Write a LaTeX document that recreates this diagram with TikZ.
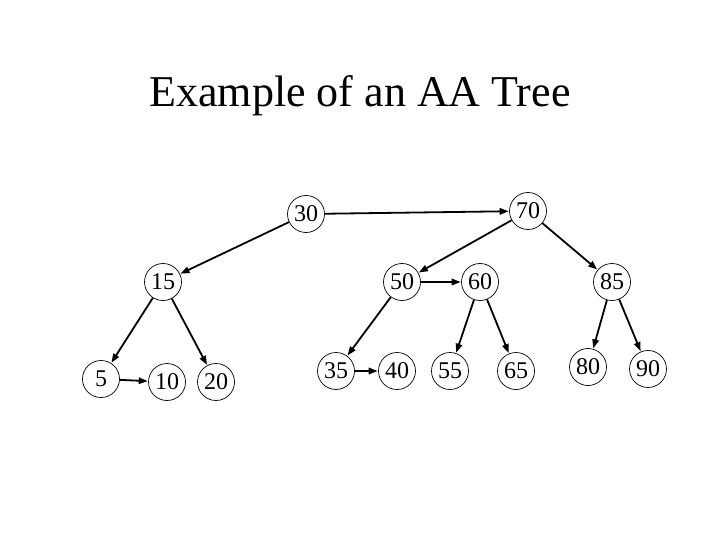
\documentclass[tikz,border=0pt]{standalone}
\usepackage{fontspec}
\setmainfont{Liberation Serif}
\usetikzlibrary{arrows.meta}
\begin{document}
\begin{tikzpicture}[x=1pt,y=-1pt,
  keynode/.style={circle,draw,line width=0.7pt,minimum size=37pt,inner sep=0pt,font=\fontsize{24}{24}\selectfont},
  link/.style={-{Triangle[length=9pt,width=6.5pt]},line width=1.8pt,shorten >=0.5pt}]
\useasboundingbox (0,0) rectangle (720,540);
\node[font=\fontsize{44}{44}\selectfont] (title) at (360,96) {Example of an AA Tree};
\node[keynode] (n30) at (306,214) {30};
\node[keynode] (n70) at (528,211) {70};
\node[keynode] (n15) at (163,282) {15};
\node[keynode] (n50) at (402,282) {50};
\node[keynode] (n60) at (480,282) {60};
\node[keynode] (n85) at (612,282) {85};
\node[keynode] (n5) at (101,379) {5};
\node[keynode] (n10) at (167,382) {10};
\node[keynode] (n20) at (216,382) {20};
\node[keynode] (n35) at (336,371) {35};
\node[keynode] (n40) at (397,371) {40};
\node[keynode] (n55) at (450,371) {55};
\node[keynode] (n65) at (516,371) {65};
\node[keynode] (n80) at (588,367) {80};
\node[keynode] (n90) at (648,369) {90};
\draw[link] (n30) -- (n70);
\draw[link] (n30) -- (n15);
\draw[link] (n70) -- (n50);
\draw[link] (n70) -- (n85);
\draw[link] (n50) -- (n60);
\draw[link] (n15) -- (n5);
\draw[link] (n15) -- (n20);
\draw[link] (n5) -- (n10);
\draw[link] (n50) -- (n35);
\draw[link] (n35) -- (n40);
\draw[link] (n60) -- (n55);
\draw[link] (n60) -- (n65);
\draw[link] (n85) -- (n80);
\draw[link] (n85) -- (n90);
\end{tikzpicture}
\end{document}
